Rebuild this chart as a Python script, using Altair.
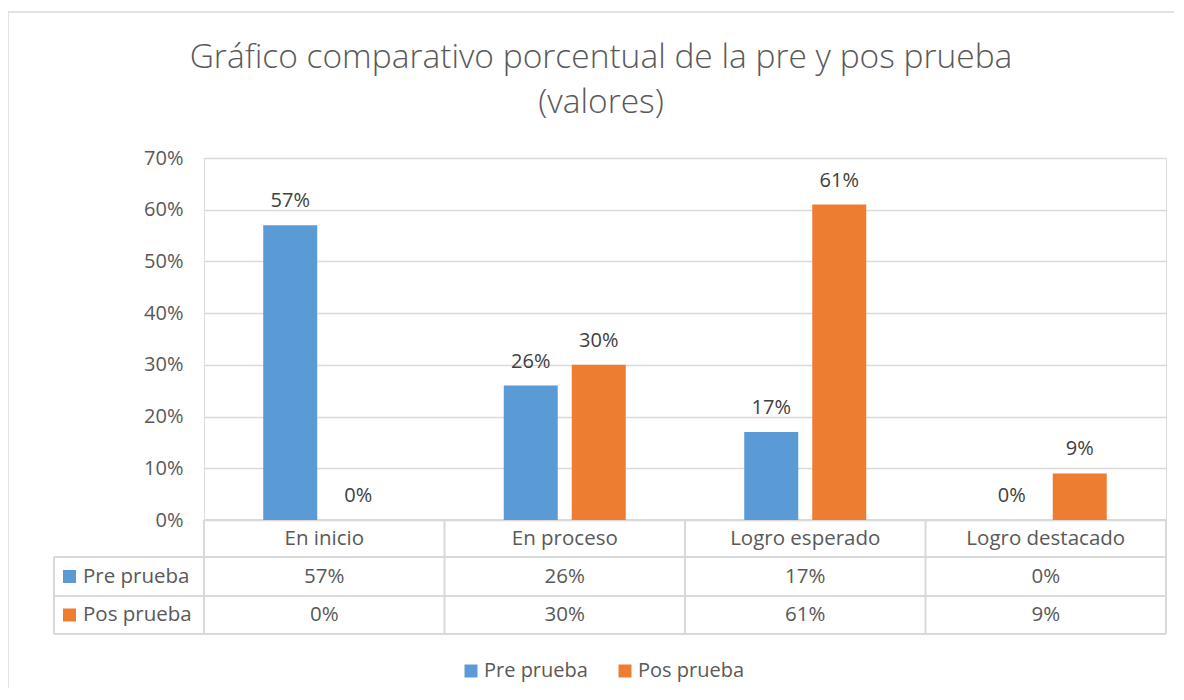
import altair as alt
import pandas as pd

categories = ["En inicio", "En proceso", "Logro esperado", "Logro destacado"]
series = ["Pre prueba", "Pos prueba"]
pre_values = [0.57, 0.26, 0.17, 0.00]
pos_values = [0.00, 0.30, 0.61, 0.09]
colors = ["#5B9BD5", "#ED7D31"]
y_ticks = [0, 0.1, 0.2, 0.3, 0.4, 0.5, 0.6, 0.7]
title_lines = ["Gráfico comparativo porcentual de la pre y pos prueba", "(valores)"]

rows = []
for c, p, q in zip(categories, pre_values, pos_values):
    rows.append({"cat": c, "serie": series[0], "val": p})
    rows.append({"cat": c, "serie": series[1], "val": q})
df = pd.DataFrame(rows)

W, H = 962, 362
FONT = "Open Sans"
FS = 20.5
TXT = "#595959"
GRID = "#D9D9D9"
ROW_HEAD, ROW_PRE, ROW_POS = 380.5, 418.5, 457
TABLE_TOP, TABLE_R1, TABLE_R2, TABLE_BOT = H, 399, 438, 476
LEFT_COL = -150

x_enc = alt.X("cat:N", sort=categories, scale=alt.Scale(paddingInner=0, paddingOuter=0), axis=None)
xoff = alt.XOffset("serie:N", sort=series, scale=alt.Scale(paddingInner=0.206, paddingOuter=0.871))
y_enc = alt.Y("val:Q", scale=alt.Scale(domain=[0, 0.7]),
              axis=alt.Axis(format=".0%", values=y_ticks, title=None, domain=False, ticks=False,
                            labelPadding=21, labelFontSize=20, labelColor=TXT, labelFont=FONT,
                            gridColor=GRID, gridWidth=1.5))
color_enc = alt.Color("serie:N", sort=series,
                      scale=alt.Scale(domain=series, range=colors),
                      legend=alt.Legend(orient="none", legendX=257, legendY=503, direction="horizontal",
                                        title=None, symbolType="square", symbolSize=169,
                                        symbolStrokeWidth=0, symbolOpacity=1,
                                        labelFontSize=20, labelColor=TXT, labelFont=FONT,
                                        labelOffset=3, columnPadding=27, labelLimit=300))

base = alt.Chart(df)

bars = base.mark_bar().encode(x=x_enc, xOffset=xoff, y=y_enc, color=color_enc)

labels = base.mark_text(baseline="alphabetic", dy=-18, fontSize=20, font=FONT, color="#404040").encode(
    x=x_enc, xOffset=xoff, y=alt.Y("val:Q"), text=alt.Text("val:Q", format=".0%"))

header = base.transform_filter(alt.datum.serie == series[0]).mark_text(
    fontSize=FS, font=FONT, color=TXT, baseline="middle").encode(
    x=x_enc, y=alt.value(ROW_HEAD), text="cat:N")

pre_row = base.transform_filter(alt.datum.serie == series[0]).mark_text(
    fontSize=FS, font=FONT, color=TXT, baseline="middle").encode(
    x=x_enc, y=alt.value(ROW_PRE), text=alt.Text("val:Q", format=".0%"))

pos_row = base.transform_filter(alt.datum.serie == series[1]).mark_text(
    fontSize=FS, font=FONT, color=TXT, baseline="middle").encode(
    x=x_enc, y=alt.value(ROW_POS), text=alt.Text("val:Q", format=".0%"))

row_layers = []
for s, yy in zip(series, [ROW_PRE, ROW_POS]):
    sub = base.transform_filter(alt.datum.serie == s).transform_filter(alt.datum.cat == categories[0])
    row_layers.append(sub.mark_text(fontSize=FS, font=FONT, color=TXT, baseline="middle", align="left").encode(
        x=alt.value(-121), y=alt.value(yy), text="serie:N"))
    row_layers.append(sub.mark_square(size=169, opacity=1).encode(
        x=alt.value(-134.5), y=alt.value(yy), color=color_enc))

one = pd.DataFrame({"a": [0]})
title_layers = []
for line, yy in zip(title_lines, [-90, -45]):
    title_layers.append(alt.Chart(one).mark_text(fontSize=33.5, font=FONT, fontWeight=300, color=TXT,
                                                 baseline="alphabetic", align="center").encode(
        x=alt.value(397), y=alt.value(yy), text=alt.value(line)))

deco = []
deco.append(base.transform_filter(alt.datum.serie == series[0]).mark_rule(color=GRID, strokeWidth=2).encode(
    x=alt.X("cat:N", sort=categories, bandPosition=0, scale=alt.Scale(paddingInner=0, paddingOuter=0), axis=None),
    y=alt.value(TABLE_TOP), y2=alt.value(TABLE_BOT)))
deco.append(alt.Chart(one).mark_rule(color=GRID, strokeWidth=2).encode(
    x=alt.value(W), y=alt.value(TABLE_TOP), y2=alt.value(TABLE_BOT)))
deco.append(alt.Chart(one).mark_rule(color=GRID, strokeWidth=2).encode(
    x=alt.value(LEFT_COL), y=alt.value(TABLE_R1), y2=alt.value(TABLE_BOT)))
deco.append(alt.Chart(one).mark_rule(color=GRID, strokeWidth=2).encode(
    x=alt.value(0), x2=alt.value(W), y=alt.value(TABLE_TOP)))
for yy in [TABLE_R1, TABLE_R2, TABLE_BOT]:
    deco.append(alt.Chart(one).mark_rule(color=GRID, strokeWidth=2).encode(
        x=alt.value(LEFT_COL), x2=alt.value(W), y=alt.value(yy)))
# outer chart border (top and left edges visible)
deco.append(alt.Chart(one).mark_rule(color=GRID, strokeWidth=1.5).encode(
    x=alt.value(-196), x2=alt.value(W + 8), y=alt.value(-146)))
deco.append(alt.Chart(one).mark_rule(color=GRID, strokeWidth=1.5).encode(
    x=alt.value(-196), y=alt.value(-146), y2=alt.value(H + 200)))

chart = alt.layer(*deco, bars, labels, header, pre_row, pos_row, *row_layers, *title_layers).properties(
    width=W, height=H,
    autosize=alt.AutoSizeParams(type="none"),
    padding={"left": 196, "top": 150, "right": 8, "bottom": 168},
).configure_view(stroke=None).configure(background="white")

chart.save("out.html", embed_options={"renderer": "svg", "actions": False})
